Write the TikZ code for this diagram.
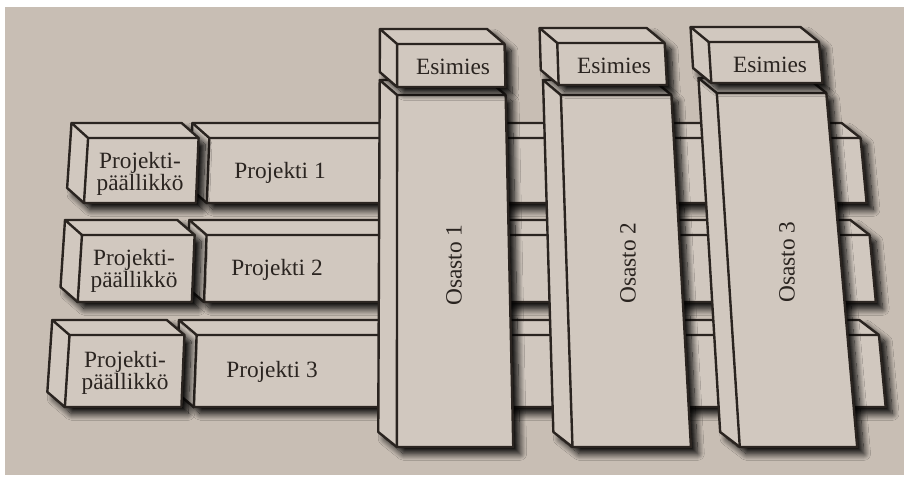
\documentclass[tikz,border=0pt]{standalone}
\usepackage{fontspec}
\setmainfont{Liberation Serif}
\usetikzlibrary{shadows.blur}
\definecolor{paper}{HTML}{C8BEB4}
\definecolor{boxc}{HTML}{D1C8BF}
\definecolor{ink}{HTML}{2A2420}
% keystone mapping of the photographed page
\newcommand\kp[2]{({400+((#1)-400)*(1+0.0002*((#2)-250))},{#2})}
% 3D box: front face x1 y1 x2 y2, depth (-18,-15)
\newcommand\bx[4]{%
 \fill[boxfill,sh] \kp{#1}{#4} -- \kp{#3}{#4} -- \kp{#3}{#2} -- \kp{#3-18}{#2-15} -- \kp{#1-18}{#2-15} -- \kp{#1-18}{#4-15} -- cycle;
 \draw[ln] \kp{#1}{#2} -- \kp{#3}{#2} -- \kp{#3}{#4} -- \kp{#1}{#4} -- cycle;
 \draw[ln] \kp{#1}{#2} -- \kp{#1-18}{#2-15} -- \kp{#3-18}{#2-15} -- \kp{#3}{#2};
 \draw[ln] \kp{#1-18}{#2-15} -- \kp{#1-18}{#4-15} -- \kp{#1}{#4};
}
\begin{document}
\begin{tikzpicture}[x=0.75pt,y=-0.75pt,
 ln/.style={draw=ink,line width=1.8pt,line join=round},
 boxfill/.style={fill=boxc},
 sh/.style={blur shadow={shadow xshift=5pt,shadow yshift=-5pt,shadow blur radius=5pt,shadow opacity=100,shadow blur steps=14}},
 lbl/.style={text=ink,font=\fontsize{17.5}{13.5}\selectfont,align=center,inner sep=0pt}]
\useasboundingbox (0,0) rectangle (904,478);
\fill[white] (0,0) rectangle (904,478);
\fill[paper] (5,7) rectangle (904,475);

% project rows: bar first, then manager box
\bx{205}{138}{871}{203}
\bx{81}{138}{194}{203}
\bx{206}{235}{871}{302}
\bx{81}{235}{194}{302}
\bx{200}{335}{871}{407}
\bx{75}{335}{188}{407}

% department pillars
\bx{397}{95}{509}{447}
\bx{566}{95}{680}{447}
\bx{727}{93}{840}{447}

% heads
\bx{397}{44}{509}{87}
\bx{564}{43}{676}{85}
\bx{722}{42}{837}{83}

% labels
\node[lbl] (pm1) at (140,174) {Projekti-\\päällikkö};
\node[lbl] (pm2) at (134,271) {Projekti-\\päällikkö};
\node[lbl] (pm3) at (125,373) {Projekti-\\päällikkö};
\node[lbl] (p1) at (280,173) {Projekti 1};
\node[lbl] (p2) at (277,270) {Projekti 2};
\node[lbl] (p3) at (272,372) {Projekti 3};
\node[lbl] (e1) at (453,67) {Esimies};
\node[lbl] (e2) at (614,66) {Esimies};
\node[lbl] (e3) at (770,65) {Esimies};
\node[lbl,rotate=90] (o1) at (454,265) {Osasto 1};
\node[lbl,rotate=90] (o2) at (628,263) {Osasto 2};
\node[lbl,rotate=90] (o3) at (787,262) {Osasto 3};
\end{tikzpicture}
\end{document}
